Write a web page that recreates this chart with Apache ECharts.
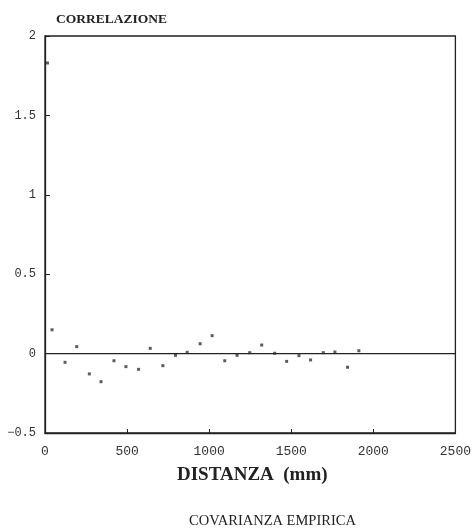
<!DOCTYPE html>
<html lang="it">
<head>
    <meta charset="UTF-8">
    <title>Covarianza empirica</title>
    <script type="text/javascript" src="https://cdn.jsdelivr.net/npm/echarts@6/dist/echarts.min.js"></script>
    <style>
        html, body { margin: 0; padding: 0; background: #fff; }
    </style>
</head>
<body>
<div id="chart" style="width: 474px; height: 532px;"></div>

<script>
    // distanza (mm) e correlazione
    var distanza = [15, 43, 122, 193, 270, 341, 420, 493, 570, 641, 718, 795, 866, 945, 1018, 1095,
        1170, 1247, 1320, 1399, 1472, 1547, 1618, 1695, 1766, 1843, 1912];
    var correlazione = [1.83, 0.15, -0.055, 0.044, -0.128, -0.177, -0.045, -0.082, -0.099, 0.033, -0.076, -0.011,
        0.008, 0.062, 0.113, -0.045, -0.011, 0.006, 0.054, 0.002, -0.049, -0.013, -0.04, 0.006, 0.01, -0.086, 0.018];
    // linea dello zero
    var lineaX = [0, 2500];
    var lineaY = [0, 0];

    var chart = echarts.init(document.getElementById('chart'));

    var punti = [];
    for (var i = 0; i < distanza.length; i++) {
        punti.push([distanza[i], correlazione[i]]);
    }
    var zero = [];
    for (var j = 0; j < lineaX.length; j++) {
        zero.push([lineaX[j], lineaY[j]]);
    }

    var fontNum = 'Liberation Mono, DejaVu Sans Mono, monospace';

    var option = {
        animation: false,
        backgroundColor: '#fff',
        grid: {left: 45, right: 17, top: 36, bottom: 99, show: true, borderColor: '#222', borderWidth: 1.3},
        title: [
            {text: 'CORRELAZIONE', left: 51, top: 8,
                textStyle: {fontFamily: 'Liberation Serif, serif', fontWeight: 'bold', fontSize: 13.5, color: '#222'}},
            {text: 'DISTANZA  (mm)', left: 172, top: 461,
                textStyle: {fontFamily: 'Liberation Serif, serif', fontWeight: 'bold', fontSize: 19, color: '#222'}},
            {text: 'COVARIANZA EMPIRICA', left: 184, top: 509,
                textStyle: {fontFamily: 'Liberation Serif, serif', fontWeight: 'normal', fontSize: 14.5, color: '#222'}}
        ],
        xAxis: {
            type: 'value', min: 0, max: 2500, interval: 500,
            axisLine: {show: true, onZero: false, lineStyle: {color: '#222', width: 1.3}},
            axisTick: {show: true, inside: true, length: 4, lineStyle: {color: '#222'}},
            axisLabel: {fontFamily: fontNum, fontSize: 13, color: '#333', margin: 12,
                formatter: function (v) { return '' + v; }},
            splitLine: {show: false}
        },
        yAxis: {
            type: 'value', min: -0.5, max: 2, interval: 0.5,
            axisLine: {show: true, onZero: false, lineStyle: {color: '#222', width: 1.3}},
            axisTick: {show: true, inside: true, length: 5, lineStyle: {color: '#222'}},
            axisLabel: {fontFamily: fontNum, fontSize: 12, color: '#333', margin: 9,
                formatter: function (v) { return v < 0 ? '\u2212' + Math.abs(v) : '' + v; }},
            splitLine: {show: false}
        },
        series: [
            {
                type: 'line', data: zero, symbol: 'none',
                lineStyle: {color: '#222', width: 1.3}
            },
            {
                type: 'scatter', data: punti, symbol: 'rect', symbolSize: 3,
                itemStyle: {color: '#333'}
            }
        ]
    };
    chart.setOption(option);
</script>
</body>
</html>
